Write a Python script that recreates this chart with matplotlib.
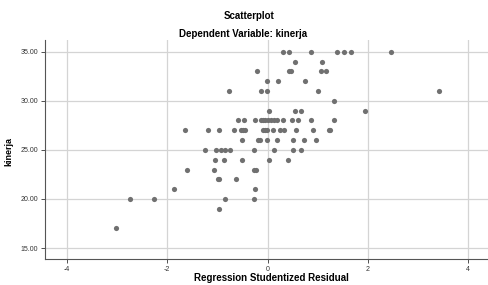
import matplotlib.pyplot as plt

plt.rcParams['font.family'] = ['Liberation Sans', 'DejaVu Sans']

# studentized residuals grouped by kinerja value
kinerja_vals = [17, 19, 20, 21, 22, 23, 24, 25, 26, 27, 28, 29, 30, 31, 32, 33, 34, 35]
residuals = [
    [-3.02],
    [-0.96],
    [-2.74, -2.27, -0.84, -0.27],
    [-1.87, -0.25],
    [-0.99, -0.96, -0.63],
    [-1.61, -1.07, -0.27, -0.23],
    [-1.04, -0.86, -0.50, 0.03, 0.40],
    [-1.25, -1.02, -0.92, -0.84, -0.74, -0.27, 0.12, 0.50, 0.67],
    [-0.50, -0.19, -0.15, -0.01, 0.19, 0.51, 0.72, 0.97],
    [-1.64, -1.19, -0.96, -0.66, -0.53, -0.48, -0.44, -0.09, -0.05, -0.01,
     0.11, 0.24, 0.33, 0.57, 0.90, 1.22, 1.25],
    [-0.58, -0.46, -0.24, -0.13, -0.09, -0.05, 0.0, 0.07, 0.13, 0.19,
     0.30, 0.48, 0.61, 0.86, 1.32],
    [0.03, 0.54, 0.66, 1.94],
    [1.32],
    [-0.76, -0.13, -0.01, 1.00, 3.43],
    [-0.01, 0.21, 0.75],
    [-0.21, 0.42, 0.46, 1.06, 1.16],
    [0.55, 1.08],
    [0.30, 0.42, 0.87, 1.39, 1.52, 1.67, 2.46],
]

x = []
y = []
for k, res in zip(kinerja_vals, residuals):
    x += res
    y += [k] * len(res)

fig = plt.figure(figsize=(4.89, 2.85), dpi=100)
ax = fig.add_axes([0.092, 0.091, 0.906, 0.769])

ax.scatter(x, y, s=14, color='#707070', zorder=3, linewidths=0)

ax.set_xlim(-4.44, 4.40)
ax.set_ylim(13.88, 36.2)
ax.set_xticks([-4, -2, 0, 2, 4])
ax.set_xticklabels(['-4', '-2', '0', '2', '4'])
ax.set_yticks([15, 20, 25, 30, 35])
ax.set_yticklabels(['15.00', '20.00', '25.00', '30.00', '35.00'])
ax.tick_params(labelsize=5, colors='#333333', length=3, width=0.6, pad=2)
ax.grid(True, color='#d4d4d4', linewidth=0.9)
ax.set_axisbelow(True)

for s in ['top', 'right']:
    ax.spines[s].set_visible(False)
for s in ['left', 'bottom']:
    ax.spines[s].set_color('#555555')
    ax.spines[s].set_linewidth(0.8)

ax.set_ylabel('kinerja', fontsize=6.5, fontweight='bold')
ax.yaxis.set_label_coords(-0.072, 0.49)

# x label sits at the very bottom edge, as in the reference
fig.text(0.556, 0.006, 'Regression Studentized Residual', ha='center', va='bottom',
         fontsize=7, fontweight='bold')

fig.text(0.509, 0.945, 'Scatterplot', ha='center', va='center', fontsize=7, fontweight='bold')
fig.text(0.497, 0.882, 'Dependent Variable: kinerja', ha='center', va='center', fontsize=7, fontweight='bold')

fig.savefig('out.png', dpi=100)
